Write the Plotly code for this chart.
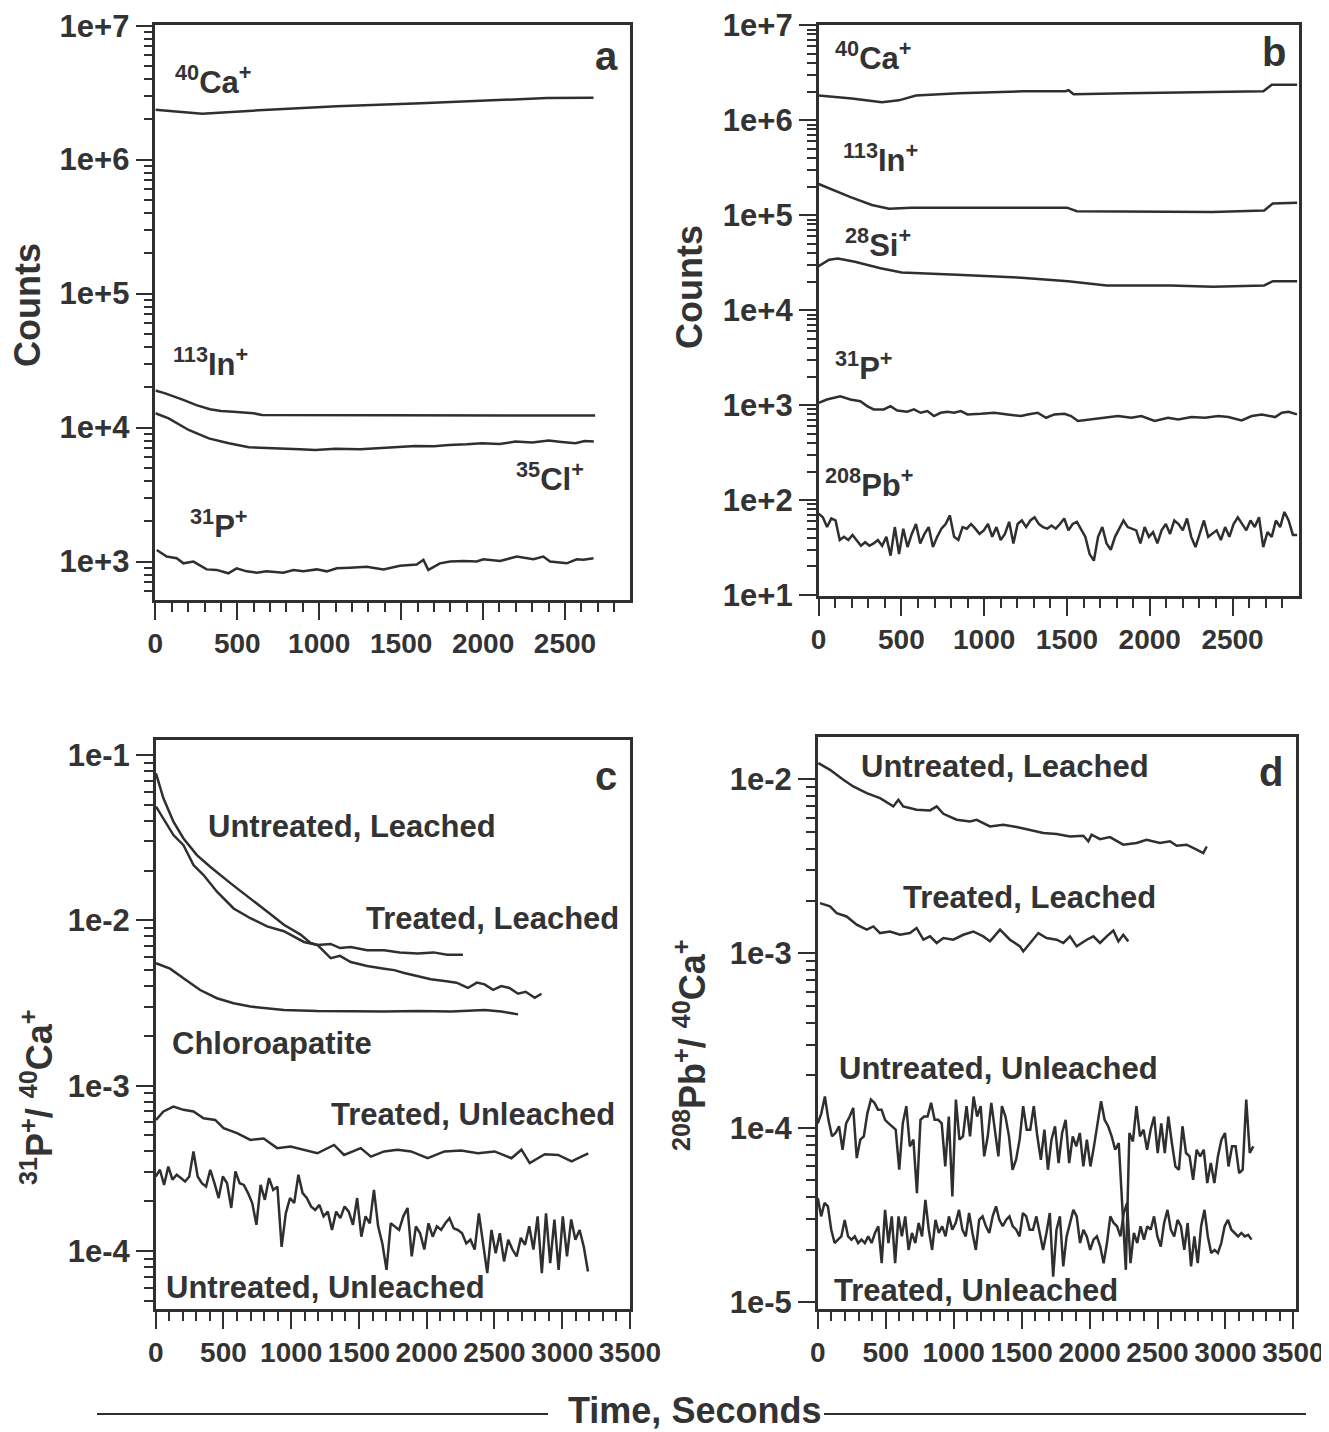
import numpy as np
import plotly.graph_objects as go

W, H = 1329, 1432          # page / reference size
OFF = 8                    # page body margin that offsets the figure
FW, FH = W - OFF, H - OFF  # figure size so it ends exactly at the page edge
LINE = "#2f2f2f"
TXT = "#333333"
FONT = "Liberation Sans, Arial, sans-serif"

# ---------------- Panel a (counts) ----------------
t_a_ca = [0, 285, 593, 1107, 1621, 2135, 2391, 2674]
v_a_ca = [2.36e6, 2.2e6, 2.32e6, 2.5e6, 2.64e6, 2.8e6, 2.88e6, 2.9e6]

t_a_in = [0, 60, 170, 250, 333, 400, 476, 598, 650, 2684]
v_a_in = [1.89e4, 1.8e4, 1.61e4, 1.47e4, 1.37e4, 1.33e4, 1.31e4, 1.28e4, 1.24e4, 1.23e4]

t_a_cl = [0, 81, 203, 326, 448, 570, 680, 773, 880, 977, 1099, 1250, 1384, 1480,
          1587, 1700, 1791, 1900, 1994, 2100, 2198, 2300, 2401, 2480, 2564, 2620, 2676]
v_a_cl = [1.28e4, 1.17e4, 9.6e3, 8.3e3, 7.63e3, 7.13e3, 7.05e3, 7.0e3, 6.9e3, 6.8e3, 6.95e3,
          6.9e3, 7.05e3, 7.15e3, 7.3e3, 7.25e3, 7.42e3, 7.5e3, 7.63e3, 7.55e3, 7.86e3,
          7.75e3, 8.0e3, 7.8e3, 7.63e3, 7.95e3, 7.86e3]

t_a_p = [8, 69, 130, 171, 232, 313, 374, 445, 496, 557, 618, 679, 781, 842, 903, 985,
         1046, 1107, 1188, 1290, 1392, 1493, 1595, 1636, 1666, 1737, 1799, 1880, 1961,
         2002, 2104, 2165, 2206, 2307, 2368, 2409, 2511, 2572, 2613, 2674]
v_a_p = [1220, 1090, 1060, 970, 1000, 874, 866, 817, 890, 845, 826, 845, 826, 866, 845,
         874, 845, 890, 900, 916, 874, 930, 950, 1030, 866, 970, 1000, 1010, 1000, 1040,
         1010, 1060, 1090, 1040, 1090, 1000, 970, 1040, 1030, 1060]

# ---------------- Panel b (counts) ----------------
t_b_ca = [0, 201, 382, 485, 588, 846, 1233, 1490, 1510, 1540, 1862, 2377, 2686, 2737, 2890]
v_b_ca = [1.82e6, 1.69e6, 1.55e6, 1.62e6, 1.82e6, 1.92e6, 2.02e6, 2.02e6, 2.07e6, 1.88e6,
          1.92e6, 1.97e6, 2.02e6, 2.36e6, 2.36e6]

t_b_in = [0, 64, 193, 322, 425, 560, 837, 1224, 1500, 1560, 2125, 2382, 2691, 2743, 2890]
v_b_in = [2.13e5, 1.91e5, 1.55e5, 1.28e5, 1.17e5, 1.2e5, 1.2e5, 1.22e5, 1.2e5, 1.1e5,
          1.1e5, 1.08e5, 1.12e5, 1.33e5, 1.35e5]

t_b_si = [0, 64, 116, 219, 374, 502, 837, 1224, 1507, 1739, 2125, 2382, 2691, 2743, 2890]
v_b_si = [2.91e4, 3.4e4, 3.5e4, 3.24e4, 2.76e4, 2.49e4, 2.36e4, 2.2e4, 2.02e4, 1.82e4,
          1.82e4, 1.76e4, 1.82e4, 2.02e4, 2.02e4]

t_b_p = [0, 50, 131, 192, 252, 293, 333, 394, 434, 475, 535, 576, 616, 657, 697, 737,
         778, 818, 859, 899, 980, 1061, 1141, 1222, 1263, 1323, 1374, 1424, 1485, 1525,
         1566, 1646, 1727, 1808, 1889, 1949, 2030, 2111, 2172, 2252, 2333, 2414, 2475,
         2555, 2616, 2677, 2757, 2798, 2838, 2889]
v_b_p = [1058, 1146, 1242, 1146, 1101, 976, 901, 901, 976, 879, 851, 901, 831, 865, 767,
         831, 851, 831, 865, 798, 811, 831, 798, 767, 798, 831, 736, 798, 811, 767, 680,
         708, 736, 767, 736, 767, 680, 736, 708, 748, 736, 767, 748, 691, 767, 798, 748,
         831, 851, 798]

v_b_pb = [72, 66, 52, 64, 61, 38, 41, 38, 43, 38, 33, 36, 33, 35, 38, 33, 41, 26, 52, 27,
          50, 32, 44, 56, 35, 44, 52, 32, 41, 50, 56, 69, 41, 38, 52, 50, 56, 50, 44, 48,
          56, 41, 52, 38, 44, 59, 35, 56, 61, 52, 61, 66, 56, 52, 50, 54, 50, 56, 64, 48,
          56, 59, 50, 41, 27, 23, 41, 52, 35, 30, 41, 50, 61, 52, 50, 48, 35, 52, 41, 46,
          35, 48, 56, 44, 61, 56, 48, 64, 41, 32, 44, 61, 41, 44, 48, 38, 52, 41, 56, 66,
          56, 48, 61, 52, 66, 32, 46, 41, 61, 52, 75, 61, 43, 43]
t_b_pb_end = 2890

# ---------------- Panel c (31P/40Ca) ----------------
t_c_ul = [2, 57, 131, 205, 304, 402, 551, 699, 822, 946, 1069, 1143, 1193, 1291, 1360,
          1439, 1560, 1686, 1760, 1834, 1933, 2030, 2131, 2220, 2304, 2370, 2427, 2490,
          2550, 2610, 2674, 2730, 2797, 2847]
v_c_ul = [0.0775, 0.0547, 0.0395, 0.0313, 0.0248, 0.0211, 0.0168, 0.0136, 0.0113, 0.0094,
          0.0082, 0.0073, 0.0071, 0.0059, 0.0061, 0.0056, 0.0053, 0.0051, 0.0050, 0.0048,
          0.0046, 0.0044, 0.0043, 0.0042, 0.0039, 0.0042, 0.0041, 0.0038, 0.0040, 0.0039,
          0.0036, 0.0037, 0.0034, 0.0036]

t_c_tl = [2, 57, 131, 205, 279, 353, 452, 575, 699, 822, 946, 1094, 1193, 1291, 1360,
          1439, 1560, 1686, 1800, 1933, 2050, 2150, 2267]
v_c_tl = [0.0488, 0.0414, 0.0328, 0.0285, 0.0216, 0.0188, 0.0149, 0.0118, 0.0103, 0.0092,
          0.0086, 0.0074, 0.0071, 0.0072, 0.0068, 0.0069, 0.0066, 0.0066, 0.0064, 0.0063,
          0.0064, 0.0062, 0.0062]

t_c_chl = [2, 106, 205, 328, 452, 575, 699, 946, 1193, 1439, 1686, 1933, 2180, 2427, 2550, 2674]
v_c_chl = [0.0055, 0.0051, 0.00447, 0.00379, 0.00338, 0.00315, 0.00301, 0.00287, 0.00283,
           0.00281, 0.00281, 0.00283, 0.00281, 0.00287, 0.00281, 0.0027]

t_c_tu = [2, 57, 131, 205, 279, 353, 439, 501, 600, 699, 797, 896, 995, 1094, 1193, 1316,
          1390, 1513, 1588, 1686, 1785, 1884, 2007, 2131, 2254, 2378, 2501, 2625, 2699,
          2760, 2871, 2970, 3069, 3118, 3192]
v_c_tu = [6.2e-4, 6.98e-4, 7.48e-4, 7.14e-4, 6.98e-4, 6.35e-4, 6.2e-4, 5.53e-4, 5.16e-4,
          4.7e-4, 4.79e-4, 4.19e-4, 4.29e-4, 4.1e-4, 3.9e-4, 4.38e-4, 3.81e-4, 4.19e-4,
          3.72e-4, 4.0e-4, 4.1e-4, 4.0e-4, 3.64e-4, 4.0e-4, 4.05e-4, 3.9e-4, 4.0e-4,
          3.64e-4, 4.1e-4, 3.4e-4, 3.85e-4, 3.81e-4, 3.48e-4, 3.64e-4, 3.9e-4]

v_c_uu = [2.82e-4, 3.10e-4, 2.51e-4, 3.24e-4, 2.70e-4, 2.89e-4, 2.76e-4, 2.63e-4, 2.82e-4,
          4.0e-4, 2.82e-4, 2.57e-4, 2.45e-4, 3.10e-4, 2.57e-4, 2.09e-4, 2.82e-4, 2.57e-4,
          1.82e-4, 3.03e-4, 2.57e-4, 2.51e-4, 2.24e-4, 1.95e-4, 1.44e-4, 2.51e-4, 2.04e-4,
          2.76e-4, 2.34e-4, 2.45e-4, 1.06e-4, 1.69e-4, 2.09e-4, 1.95e-4, 2.89e-4, 2.24e-4,
          2.09e-4, 1.86e-4, 1.77e-4, 1.90e-4, 1.62e-4, 1.73e-4, 1.34e-4, 1.73e-4, 1.58e-4,
          1.86e-4, 1.73e-4, 1.44e-4, 2.09e-4, 1.22e-4, 1.62e-4, 1.47e-4, 2.34e-4, 1.41e-4,
          1.11e-4, 7.69e-5, 1.47e-4, 1.41e-4, 1.34e-4, 1.62e-4, 1.82e-4, 9.27e-5, 1.41e-4,
          1.28e-4, 1.02e-4, 1.47e-4, 1.22e-4, 1.41e-4, 1.34e-4, 1.47e-4, 1.58e-4, 1.37e-4,
          1.34e-4, 1.28e-4, 1.11e-4, 1.17e-4, 1.02e-4, 1.69e-4, 1.11e-4, 7.35e-5, 1.34e-4,
          9.7e-5, 1.28e-4, 8.65e-5, 1.17e-4, 1.02e-4, 9.27e-5, 1.20e-4, 1.09e-4, 1.41e-4,
          1.02e-4, 1.62e-4, 7.35e-5, 1.69e-4, 8.44e-5, 1.55e-4, 7.69e-5, 1.62e-4, 9.27e-5,
          1.55e-4, 1.17e-4, 1.34e-4, 1.06e-4, 7.52e-5]
t_c_uu_end = 3190

# ---------------- Panel d (208Pb/40Ca) ----------------
t_d_ul = [4, 90, 188, 261, 360, 458, 556, 593, 629, 727, 826, 875, 924, 1022, 1120, 1169,
          1267, 1365, 1463, 1562, 1660, 1758, 1856, 1954, 1991, 2015, 2077, 2150, 2248,
          2346, 2420, 2518, 2592, 2641, 2714, 2788, 2837, 2862]
v_d_ul = [0.01236, 0.01132, 0.00993, 0.00908, 0.00832, 0.00778, 0.00698, 0.00762, 0.00698,
          0.00667, 0.00662, 0.00698, 0.00633, 0.00585, 0.00572, 0.00585, 0.00536, 0.00547,
          0.00531, 0.00508, 0.00491, 0.00484, 0.00469, 0.00474, 0.0044, 0.0048, 0.00453,
          0.00465, 0.00421, 0.0043, 0.00449, 0.0043, 0.0044, 0.00415, 0.00421, 0.00394,
          0.00377, 0.00411]

t_d_tl = [16, 90, 139, 212, 286, 360, 409, 458, 531, 605, 678, 727, 777, 826, 875, 924,
          997, 1071, 1144, 1218, 1267, 1341, 1414, 1488, 1512, 1562, 1623, 1684, 1758,
          1807, 1856, 1905, 1979, 2028, 2077, 2126, 2175, 2212, 2248, 2285]
v_d_tl = [1.945e-3, 1.862e-3, 1.705e-3, 1.63e-3, 1.462e-3, 1.37e-3, 1.43e-3, 1.309e-3,
          1.337e-3, 1.28e-3, 1.309e-3, 1.40e-3, 1.199e-3, 1.253e-3, 1.148e-3, 1.226e-3,
          1.199e-3, 1.28e-3, 1.337e-3, 1.253e-3, 1.173e-3, 1.37e-3, 1.199e-3, 1.098e-3,
          1.027e-3, 1.148e-3, 1.309e-3, 1.226e-3, 1.199e-3, 1.148e-3, 1.253e-3, 1.098e-3,
          1.199e-3, 1.253e-3, 1.148e-3, 1.253e-3, 1.355e-3, 1.173e-3, 1.28e-3, 1.173e-3]

v_d_uu = [1.06e-4, 1.21e-4, 1.51e-4, 1.11e-4, 8.93e-5, 9.33e-5, 1.02e-4, 7.48e-5, 1.06e-4,
          1.16e-4, 1.30e-4, 6.7e-5, 8.54e-5, 8.93e-5, 1.21e-4, 1.45e-4, 1.39e-4, 1.27e-4,
          1.27e-4, 1.11e-4, 1.06e-4, 1.02e-4, 9.75e-5, 5.74e-5, 1.06e-4, 1.33e-4, 7.82e-5,
          8.54e-5, 4.21e-5, 1.11e-4, 1.16e-4, 1.16e-4, 1.39e-4, 1.11e-4, 1.11e-4, 1.06e-4,
          6.0e-5, 1.16e-4, 4.03e-5, 1.45e-4, 8.54e-5, 8.93e-5, 1.33e-4, 8.93e-5, 1.51e-4,
          1.16e-4, 1.33e-4, 6.85e-5, 8.93e-5, 1.39e-4, 9.75e-5, 6.85e-5, 1.33e-4, 1.16e-4,
          8.93e-5, 5.74e-5, 6.55e-5, 8.54e-5, 1.33e-4, 9.75e-5, 9.75e-5, 1.33e-4, 8.93e-5,
          6.55e-5, 9.75e-5, 5.74e-5, 8.54e-5, 1.02e-4, 6.27e-5, 9.33e-5, 1.11e-4, 6.27e-5,
          8.93e-5, 7.82e-5, 9.33e-5, 6.0e-5, 8.54e-5, 6.0e-5, 7.82e-5, 1.06e-4, 1.42e-4,
          1.11e-4, 1.02e-4, 8.93e-5, 7.48e-5, 8.17e-5, 3.70e-5, 1.53e-5, 9.33e-5, 8.35e-5,
          1.33e-4, 8.93e-5, 9.75e-5, 7.48e-5, 9.75e-5, 1.16e-4, 7.16e-5, 1.06e-4, 7.16e-5,
          1.16e-4, 8.17e-5, 6.0e-5, 5.74e-5, 1.02e-4, 7.16e-5, 6.85e-5, 5.03e-5, 7.48e-5,
          6.85e-5, 7.48e-5, 4.81e-5, 6.27e-5, 4.81e-5, 6.85e-5, 8.54e-5, 9.33e-5, 6.0e-5,
          7.82e-5, 7.82e-5, 5.49e-5, 5.74e-5, 1.45e-4, 7.16e-5, 7.82e-5]
t_d_uu_end = 3205

v_d_tu = [3.95e-5, 3.10e-5, 3.70e-5, 3.54e-5, 2.60e-5, 2.18e-5, 2.28e-5, 2.38e-5, 2.96e-5,
          2.38e-5, 2.28e-5, 2.38e-5, 2.18e-5, 2.28e-5, 2.18e-5, 2.38e-5, 2.18e-5, 2.49e-5,
          2.72e-5, 1.67e-5, 3.38e-5, 2.18e-5, 3.10e-5, 1.67e-5, 3.10e-5, 2.38e-5, 3.10e-5,
          1.99e-5, 2.49e-5, 2.18e-5, 2.84e-5, 2.38e-5, 3.86e-5, 2.60e-5, 1.99e-5, 2.96e-5,
          2.49e-5, 2.72e-5, 2.38e-5, 3.10e-5, 2.60e-5, 2.84e-5, 3.38e-5, 2.60e-5, 2.38e-5,
          3.24e-5, 2.49e-5, 1.99e-5, 2.96e-5, 3.10e-5, 2.72e-5, 2.49e-5, 3.10e-5, 3.54e-5,
          2.96e-5, 2.72e-5, 2.96e-5, 3.10e-5, 2.72e-5, 2.60e-5, 2.38e-5, 3.24e-5, 3.10e-5,
          2.60e-5, 2.60e-5, 3.10e-5, 2.49e-5, 1.99e-5, 2.49e-5, 3.24e-5, 1.40e-5, 2.60e-5,
          3.10e-5, 1.60e-5, 2.38e-5, 2.84e-5, 3.38e-5, 3.10e-5, 2.18e-5, 2.60e-5, 2.38e-5,
          1.99e-5, 2.28e-5, 2.38e-5, 2.08e-5, 1.67e-5, 2.18e-5, 3.10e-5, 2.84e-5, 2.72e-5,
          2.38e-5, 3.24e-5, 3.70e-5, 1.67e-5, 2.49e-5, 2.18e-5, 2.72e-5, 2.28e-5, 2.72e-5,
          2.60e-5, 3.10e-5, 2.38e-5, 2.08e-5, 2.84e-5, 3.38e-5, 2.60e-5, 2.38e-5, 2.96e-5,
          2.72e-5, 1.99e-5, 2.84e-5, 1.60e-5, 2.38e-5, 1.67e-5, 2.72e-5, 3.38e-5, 2.38e-5,
          1.91e-5, 1.99e-5, 1.91e-5, 2.18e-5, 2.72e-5, 2.96e-5, 2.60e-5, 2.49e-5, 2.38e-5,
          2.49e-5, 2.38e-5, 2.43e-5, 2.28e-5]
t_d_tu_end = 3192

# tick labels
yt_counts_a = [1e3, 1e4, 1e5, 1e6, 1e7]
yl_counts_a = ["1e+3", "1e+4", "1e+5", "1e+6", "1e+7"]
yt_counts_b = [1e1, 1e2, 1e3, 1e4, 1e5, 1e6, 1e7]
yl_counts_b = ["1e+1", "1e+2", "1e+3", "1e+4", "1e+5", "1e+6", "1e+7"]
yt_c = [1e-4, 1e-3, 1e-2, 1e-1]
yl_c = ["1e-4", "1e-3", "1e-2", "1e-1"]
yt_d = [1e-5, 1e-4, 1e-3, 1e-2]
yl_d = ["1e-5", "1e-4", "1e-3", "1e-2"]
xt_top = [0, 500, 1000, 1500, 2000, 2500]
xt_bot = [0, 500, 1000, 1500, 2000, 2500, 3000, 3500]

fig = go.Figure()


def add(t, v, n):
    fig.add_trace(go.Scatter(
        x=t, y=v, mode="lines", line=dict(color=LINE, width=2.5),
        xaxis="x" + ("" if n == 1 else str(n)), yaxis="y" + ("" if n == 1 else str(n)),
        showlegend=False, hoverinfo="skip"))


add(t_a_ca, v_a_ca, 1)
add(t_a_in, v_a_in, 1)
add(t_a_cl, v_a_cl, 1)
add(t_a_p, v_a_p, 1)

add(t_b_ca, v_b_ca, 2)
add(t_b_in, v_b_in, 2)
add(t_b_si, v_b_si, 2)
add(t_b_p, v_b_p, 2)
add(np.linspace(0, t_b_pb_end, len(v_b_pb)), v_b_pb, 2)

add(t_c_ul, v_c_ul, 3)
add(t_c_tl, v_c_tl, 3)
add(t_c_chl, v_c_chl, 3)
add(t_c_tu, v_c_tu, 3)
add(np.linspace(0, t_c_uu_end, len(v_c_uu)), v_c_uu, 3)

add(t_d_ul, v_d_ul, 4)
add(t_d_tl, v_d_tl, 4)
add(np.linspace(0, t_d_uu_end, len(v_d_uu)), v_d_uu, 4)
add(np.linspace(0, t_d_tu_end, len(v_d_tu)), v_d_tu, 4)


def px_x(p):
    return (p - OFF) / FW


def px_y(p):
    return 1 - (p - OFF) / FH


def dom_x(p0, p1):
    return [px_x(p0), px_x(p1)]


def dom_y(top, bottom):
    return [px_y(bottom), px_y(top)]


yfont = dict(family=FONT, size=31, color=TXT, weight="bold")
xfont = dict(family=FONT, size=28, color=TXT, weight="bold")


def xaxis(domain, rng, anchor, majors, step_minor, xmax):
    return dict(domain=domain, range=rng, anchor=anchor, showline=True, linecolor=LINE,
                linewidth=2.5, mirror=True, ticks="outside", ticklen=17, tickwidth=2,
                tickcolor=LINE, tickmode="array", tickvals=majors, tickangle=0,
                ticktext=[str(v) for v in majors], tickfont=xfont, automargin=False,
                ticklabeloverflow="allow",
                minor=dict(ticks="outside", ticklen=9, tickwidth=2, tickcolor=LINE,
                           tickmode="array",
                           tickvals=[v for v in range(0, int(xmax) + 1, step_minor)]),
                showgrid=False, zeroline=False, fixedrange=True)


def yaxis(domain, rng, anchor, tv, tl):
    lo, hi = int(np.floor(rng[0])), int(np.ceil(rng[1]))
    minors = [k * 10.0 ** e for e in range(lo, hi) for k in range(2, 10)
              if rng[0] <= np.log10(k * 10.0 ** e) <= rng[1]]
    return dict(domain=domain, range=rng, anchor=anchor, type="log", showline=True,
                linecolor=LINE, linewidth=2.5, mirror=True, ticks="outside", ticklen=17,
                tickwidth=2, tickcolor=LINE, tickmode="array", tickvals=tv, ticktext=tl,
                tickfont=yfont, automargin=False, ticklabeloverflow="allow",
                minor=dict(ticks="outside", ticklen=9, tickwidth=1.5, tickcolor=LINE,
                           tickmode="array", tickvals=minors),
                showgrid=False, zeroline=False, fixedrange=True)


fig.update_layout(
    width=FW, height=FH, margin=dict(l=0, r=0, t=0, b=0, autoexpand=False),
    paper_bgcolor="white", plot_bgcolor="white", showlegend=False,
    xaxis=xaxis(dom_x(155.4, 630), [0, 2897], "y", xt_top, 100, 2897),
    yaxis=yaxis(dom_y(25, 600), [2.713, 7.005], "x", yt_counts_a, yl_counts_a),
    xaxis2=xaxis(dom_x(818.6, 1298.6), [0, 2899], "y2", xt_top, 100, 2899),
    yaxis2=yaxis(dom_y(25, 596), [0.99, 7.003], "x2", yt_counts_b, yl_counts_b),
    xaxis3=xaxis(dom_x(155.7, 630), [0, 3500], "y3", xt_bot, 100, 3500),
    yaxis3=yaxis(dom_y(740, 1309), [-4.351, -0.909], "x3", yt_c, yl_c),
    xaxis4=xaxis(dom_x(817.8, 1295.7), [0, 3517], "y4", xt_bot, 100, 3517),
    yaxis4=yaxis(dom_y(737, 1309), [-5.04, -1.758], "x4", yt_d, yl_d),
)


def ann(text, px, py, size=31, angle=0):
    fig.add_annotation(x=px_x(px), y=px_y(py), xref="paper", yref="paper", text=text,
                       showarrow=False, textangle=angle, xanchor="center", yanchor="middle",
                       font=dict(family=FONT, size=size, color=TXT, weight="bold"))


# panel letters
ann("a", 606, 56, 40)
ann("b", 1274, 52, 40)
ann("c", 606, 776, 40)
ann("d", 1271, 772, 40)

# species labels a
ann("<sup>40</sup>Ca<sup>+</sup>", 213, 80)
ann("<sup>113</sup>In<sup>+</sup>", 210, 362)
ann("<sup>35</sup>Cl<sup>+</sup>", 550, 477)
ann("<sup>31</sup>P<sup>+</sup>", 218, 524)
# species labels b
ann("<sup>40</sup>Ca<sup>+</sup>", 873, 56)
ann("<sup>113</sup>In<sup>+</sup>", 880, 158)
ann("<sup>28</sup>Si<sup>+</sup>", 878, 243)
ann("<sup>31</sup>P<sup>+</sup>", 863, 366)
ann("<sup>208</sup>Pb<sup>+</sup>", 869, 483)
# panel c labels
ann("Untreated, Leached", 352, 827)
ann("Treated, Leached", 492, 918)
ann("Chloroapatite", 272, 1043)
ann("Treated, Unleached", 473, 1114)
ann("Untreated, Unleached", 325, 1287)
# panel d labels
ann("Untreated, Leached", 1005, 766)
ann("Treated, Leached", 1030, 897)
ann("Untreated, Unleached", 998, 1068)
ann("Treated, Unleached", 976, 1290)

# axis titles
ann("Counts", 27, 305, 36, -90)
ann("Counts", 690, 287, 36, -90)
ann("<sup>31</sup>P<sup>+</sup>/ <sup>40</sup>Ca<sup>+</sup>", 37, 1097, 36, -90)
ann("<sup>208</sup>Pb<sup>+</sup>/ <sup>40</sup>Ca<sup>+</sup>", 690, 1045, 36, -90)
ann("Time, Seconds", 694, 1410, 36)

# decorative rule around the shared x title
for x0, x1 in [(97, 548), (824, 1306)]:
    fig.add_shape(type="line", xref="paper", yref="paper", x0=px_x(x0), x1=px_x(x1),
                  y0=px_y(1414), y1=px_y(1414), line=dict(color=LINE, width=2))

fig.write_html("out.html")
